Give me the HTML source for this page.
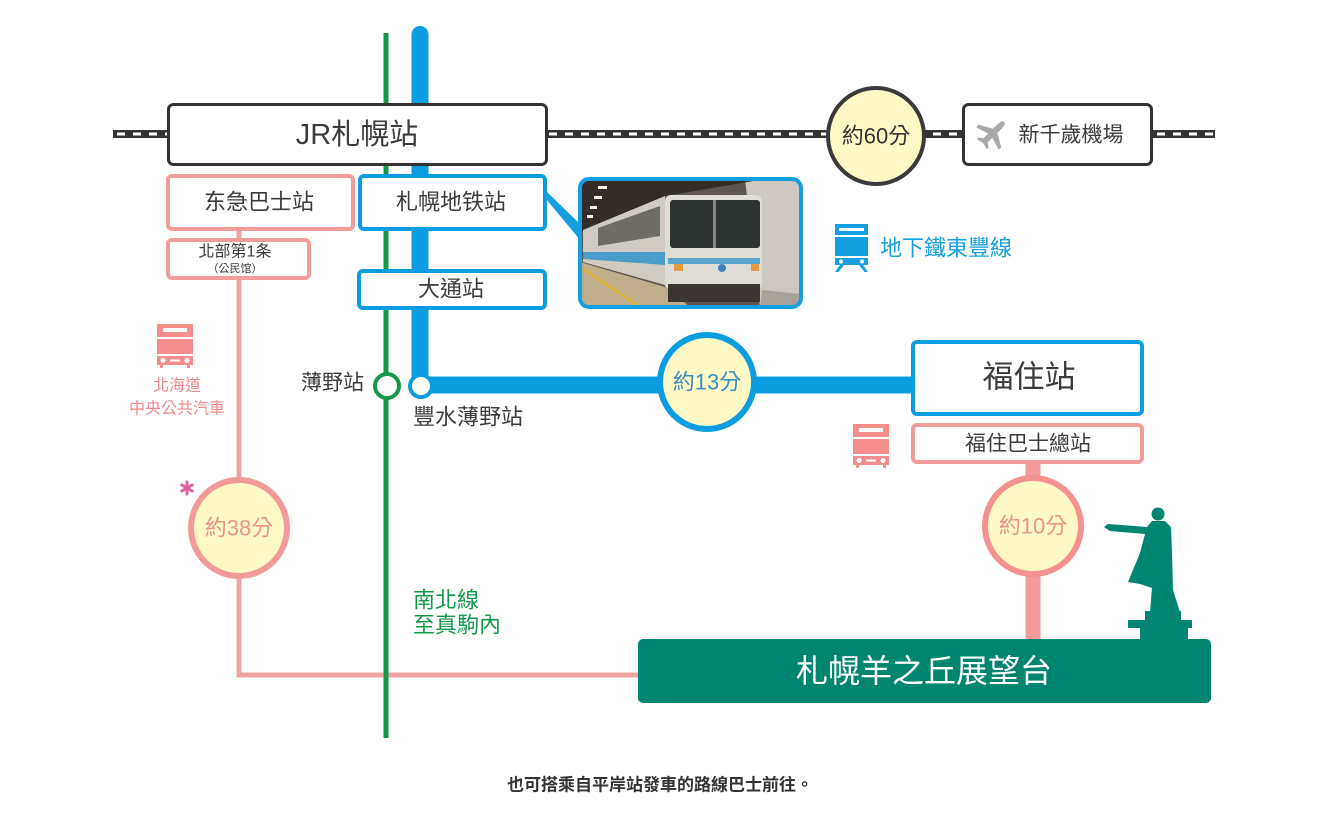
<!DOCTYPE html>
<html><head><meta charset="utf-8"><style>
html,body{margin:0;padding:0;background:#fff;width:1320px;height:816px;overflow:hidden}
svg{display:block}
text{font-family:"Liberation Sans","Noto Sans CJK TC",sans-serif}
</style></head><body>
<svg width="1320" height="816" viewBox="0 0 1320 816" xmlns="http://www.w3.org/2000/svg">
<defs>
<clipPath id="ph"><rect x="580" y="179" width="221" height="128" rx="9"/></clipPath>
</defs>
<!-- rail track -->
<line x1="113" y1="134" x2="1215" y2="134" stroke="#333" stroke-width="8"/>
<line x1="117" y1="134" x2="1213" y2="134" stroke="#fff" stroke-width="3" stroke-dasharray="8 8"/>

<!-- pink bus line -->
<path d="M239,231 L239,675 L645,675" fill="none" stroke="#f0a3a3" stroke-width="5"/>
<!-- green line -->
<line x1="386" y1="33" x2="386" y2="738" stroke="#13994a" stroke-width="5"/>
<!-- blue line -->
<path d="M420,34.5 L420,385 L911,385" fill="none" stroke="#0c9de0" stroke-width="17" stroke-linecap="round"/>
<!-- pink fukuzumi connector -->
<line x1="1033" y1="462" x2="1033" y2="642" stroke="#f49a98" stroke-width="15"/>

<!-- boxes -->
<rect x="168.5" y="104.5" width="378" height="60" rx="5" fill="#fff" stroke="#333" stroke-width="3"/>
<rect x="963.5" y="104.5" width="188" height="60" rx="5" fill="#fff" stroke="#333" stroke-width="3"/>
<rect x="168" y="176" width="185" height="53" rx="4" fill="#fff" stroke="#f29d9b" stroke-width="4"/>
<rect x="360" y="176" width="185" height="53" rx="4" fill="#fff" stroke="#0c9de0" stroke-width="4"/>
<rect x="168" y="240" width="141" height="38" rx="4" fill="#fff" stroke="#f29d9b" stroke-width="4"/>
<rect x="359" y="271" width="186" height="37" rx="4" fill="#fff" stroke="#0c9de0" stroke-width="4"/>
<rect x="913" y="342" width="229" height="72" rx="4" fill="#fff" stroke="#0c9de0" stroke-width="4"/>
<rect x="913" y="425" width="229" height="37" rx="4" fill="#fff" stroke="#f29d9b" stroke-width="4"/>
<rect x="638" y="639" width="573" height="64" rx="5" fill="#00866e"/>

<!-- pointer wedge -->
<polygon points="546,191 581,225 581,241 546,199" fill="#14a0e0"/>

<!-- photo -->
<g clip-path="url(#ph)">
<rect x="580" y="179" width="221" height="128" fill="#5e554e"/>
<polygon points="745,179 801,179 801,307 760,307" fill="#cdc8c2"/>
<polygon points="580,179 765,179 665,196 583,232 580,232" fill="#332c28"/>
<rect x="598" y="186" width="9" height="3" fill="#f4f0e0"/>
<rect x="594" y="196" width="8" height="3" fill="#f4f0e0"/>
<rect x="590" y="206" width="7" height="3" fill="#f4f0e0"/>
<rect x="587" y="215" width="6" height="3" fill="#f4f0e0"/>
<polygon points="583,230 665,196 665,285 583,262" fill="#d0cbc2"/>
<polygon points="598,228 660,206 660,236 598,246" fill="#6d6c66"/>
<polygon points="583,252 665,252 665,265 583,259" fill="#4a9cc8"/>
<polygon points="580,262 665,287 690,307 580,307" fill="#bfae8c"/>
<line x1="582" y1="268" x2="640" y2="307" stroke="#d8b040" stroke-width="3"/>
<rect x="665" y="195" width="97" height="95" rx="6" fill="#e0ddd6"/>
<rect x="670" y="200" width="90" height="48" rx="3" fill="#2f3532"/>
<rect x="713" y="200" width="3" height="48" fill="#8a8a86"/>
<rect x="668" y="258" width="92" height="6" fill="#5aa5cf"/>
<rect x="674" y="264" width="9" height="7" fill="#e89a40"/>
<rect x="751" y="264" width="8" height="7" fill="#e89a40"/>
<circle cx="722" cy="268" r="4" fill="#3d86c0"/>
<rect x="668" y="284" width="92" height="18" fill="#3b3633"/>
<polygon points="762,290 801,294 801,307 760,307" fill="#a8a29a"/>
</g>
<rect x="580" y="179" width="221" height="128" rx="9" fill="none" stroke="#14a0e0" stroke-width="4"/>

<!-- circles -->
<circle cx="876" cy="136" r="48" fill="#fff9c6" stroke="#3a3a3a" stroke-width="4"/>
<circle cx="707" cy="382" r="47" fill="#fff9c6" stroke="#0c9de0" stroke-width="6"/>
<circle cx="239" cy="528" r="48" fill="#fff9c6" stroke="#f29a98" stroke-width="6"/>
<circle cx="1033" cy="526" r="48" fill="#fff9c6" stroke="#f4928f" stroke-width="6"/>
<circle cx="387" cy="386" r="12" fill="#fff" stroke="#13994a" stroke-width="4"/>
<circle cx="421" cy="386" r="11" fill="#fff" stroke="#0c9de0" stroke-width="4"/>

<!-- bus icons -->
<g transform="translate(157,324)" fill="#f48e8c">
<rect x="0" y="0" width="36" height="13"/><rect x="6" y="4" width="24" height="4" fill="#fff"/>
<rect x="0" y="15" width="36" height="15"/>
<rect x="0" y="32" width="36" height="9"/>
<circle cx="6" cy="36.5" r="2.5" fill="#fff"/><circle cx="30" cy="36.5" r="2.5" fill="#fff"/>
<rect x="13" y="35.5" width="10" height="2" fill="#fff"/>
<rect x="3" y="41" width="3" height="3"/><rect x="30" y="41" width="3" height="3"/>
</g>
<g transform="translate(853,424)" fill="#f48e8c">
<rect x="0" y="0" width="36" height="13"/><rect x="6" y="4" width="24" height="4" fill="#fff"/>
<rect x="0" y="15" width="36" height="15"/>
<rect x="0" y="32" width="36" height="9"/>
<circle cx="6" cy="36.5" r="2.5" fill="#fff"/><circle cx="30" cy="36.5" r="2.5" fill="#fff"/>
<rect x="13" y="35.5" width="10" height="2" fill="#fff"/>
<rect x="3" y="41" width="3" height="3"/><rect x="30" y="41" width="3" height="3"/>
</g>

<!-- train icon -->
<g transform="translate(835,224)" fill="#14a0e0">
<rect x="0" y="0" width="33" height="11"/><rect x="4" y="4" width="25" height="3" fill="#fff"/>
<rect x="0" y="13" width="33" height="19"/>
<rect x="0" y="34" width="33" height="7"/>
<circle cx="6" cy="37.5" r="2" fill="#fff"/><circle cx="27" cy="37.5" r="2" fill="#fff"/>
<polygon points="5,41 9,41 3.5,48 0,48"/>
<polygon points="24,41 28,41 33,48 29.5,48"/>
</g>

<!-- airplane -->
<g transform="translate(992,134) rotate(45)" fill="#a9a9a9">
<path d="M0,-17 C2.3,-17 3,-14 3,-11 L3,-4.5 L16,3 L16,6.5 L3,2.5 L3,9 L7,12 L7,14.5 L0,12.5 L-7,14.5 L-7,12 L-3,9 L-3,2.5 L-16,6.5 L-16,3 L-3,-4.5 L-3,-11 C-3,-14 -2.3,-17 0,-17 Z"/>
</g>

<!-- asterisk -->
<g stroke="#e0609e" stroke-width="3" stroke-linecap="round">
<line x1="187" y1="482" x2="187" y2="494"/>
<line x1="181.8" y1="485" x2="192.2" y2="491"/>
<line x1="181.8" y1="491" x2="192.2" y2="485"/>
</g>

<!-- statue -->
<g fill="#008670">
<circle cx="1158" cy="514" r="6.5"/>
<path d="M1152,521 L1147,527 L1108,524 L1104,527 L1110,531 L1145,534 L1140,553 L1128,582 L1140,584 L1152,588 L1150,612 L1180,612 L1173,590 L1172,553 L1171,527 L1165,521 Z"/>
<rect x="1145" y="611" width="36" height="9"/>
<rect x="1128" y="620" width="64" height="8"/>
<rect x="1140" y="628" width="48" height="12"/>
</g>

<!-- labels -->
<g dominant-baseline="central" text-anchor="middle" fill="#3c3c3c">
<text x="357" y="135" font-size="29">JR札幌站</text>
<text x="1071" y="135" font-size="21">新千歲機場</text>
<text x="259" y="202" font-size="22">东急巴士站</text>
<text x="451" y="202" font-size="22">札幌地铁站</text>
<text x="235" y="252" font-size="16">北部第1条</text>
<text x="235" y="269" font-size="11">（公民馆）</text>
<text x="451" y="289" font-size="22">大通站</text>
<text x="1029" y="377" font-size="31">福住站</text>
<text x="1028" y="444" font-size="21">福住巴士總站</text>
<text x="876" y="136" font-size="22" fill="#333">約60分</text>
<text x="707" y="382" font-size="22" fill="#3b8ec2">約13分</text>
<text x="239" y="528" font-size="22" fill="#e9938b">約38分</text>
<text x="1033" y="526" font-size="22" fill="#ec958c">約10分</text>
<text x="177" y="386" font-size="16" fill="#f08a8a">北海道</text>
<text x="177" y="409" font-size="16" fill="#f08a8a">中央公共汽車</text>
<text x="924" y="671" font-size="32" fill="#fff">札幌羊之丘展望台</text>
<text x="660" y="785" font-size="17" font-weight="bold" fill="#333">也可搭乘自平岸站發車的路線巴士前往。</text>
</g>
<g dominant-baseline="central" fill="#3c3c3c">
<text x="364" y="383" font-size="21" text-anchor="end">薄野站</text>
<text x="413" y="417" font-size="22">豐水薄野站</text>
<text x="413" y="600" font-size="22" fill="#13994a">南北線</text>
<text x="413" y="625" font-size="22" fill="#13994a">至真駒內</text>
<text x="880" y="248" font-size="22" fill="#16a0e0">地下鐵東豐線</text>
</g>
</svg>
</body></html>
